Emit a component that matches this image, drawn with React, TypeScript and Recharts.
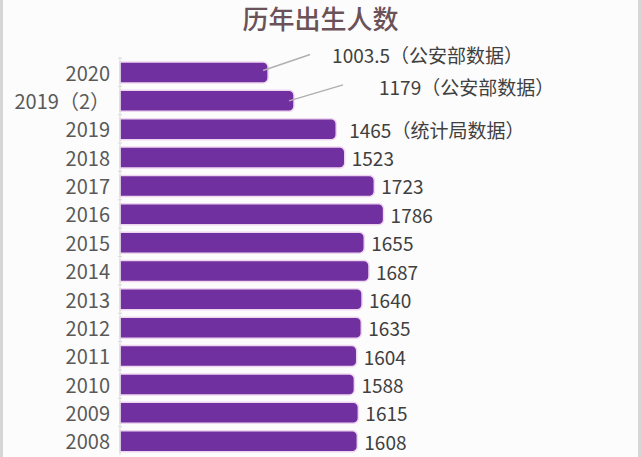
import { BarChart, Bar, XAxis, YAxis, LabelList } from 'recharts';

const years = ['2020', '2019（2）', '2019', '2018', '2017', '2016', '2015', '2014', '2013', '2012', '2011', '2010', '2009', '2008'];
const births = [1003.5, 1179, 1465, 1523, 1723, 1786, 1655, 1687, 1640, 1635, 1604, 1588, 1615, 1608];
const notes = ['（公安部数据）', '（公安部数据）', '（统计局数据）', '', '', '', '', '', '', '', '', '', '', ''];

const data = years.map((year, i) => ({ year, births: births[i], note: notes[i] }));

const W = 641;
const H = 457;
const MARGIN = { top: 58, right: 0, bottom: 2, left: 0 };
const band = (H - MARGIN.top - MARGIN.bottom) / years.length;

const FONT = '"Noto Sans CJK SC", "Noto Sans", sans-serif';

// callout placement for the first rows (leader line + shifted text)
const callouts: Record<number, { x1: number; y1: number; x2: number; y2: number; tx: number; ty: number }> = {
  0: { x1: -5, y1: -2, x2: 42, y2: -18, tx: 64, ty: -18 },
  1: { x1: -5, y1: 0, x2: 49, y2: -16, tx: 85, ty: -14 },
};

const YearTick = (props: any) => {
  const { x, y, payload } = props;
  return (
    <g>
      <line x1={x} x2={x + 4} y1={y - band / 2} y2={y - band / 2} stroke="#d9d9d9" />
      <text x={x - 8} y={y} textAnchor="end" dominantBaseline="central" fontSize={20} fill="#595959" fontFamily={FONT}>
        {payload.value}
      </text>
    </g>
  );
};

const ValueLabel = (props: any) => {
  const { x, y, width, height, value, index } = props;
  const end = x + width;
  const cy = y + height / 2;
  const text = `${value}${notes[index]}`;
  const c = callouts[index];
  if (c) {
    return (
      <g>
        <line x1={end + c.x1} y1={cy + c.y1} x2={end + c.x2} y2={cy + c.y2} stroke="#b0b0b0" strokeWidth={1.5} />
        <text x={end + c.tx} y={cy + c.ty} dominantBaseline="central" fontSize={19} fill="#404040" fontFamily={FONT}>
          {text}
        </text>
      </g>
    );
  }
  return (
    <text x={end + (notes[index] ? 13 : 7)} y={cy} dominantBaseline="central" fontSize={19} fill="#404040" fontFamily={FONT}>
      {text}
    </text>
  );
};

export default function App() {
  return (
    <div
      style={{
        position: 'absolute',
        left: 0,
        top: 0,
        width: W,
        height: H,
        background: '#fcfcfc',
        boxSizing: 'border-box',
        borderLeft: '3px solid #d6d6d6',
        borderRight: '3px solid #d6d6d6',
        overflow: 'hidden',
      }}
    >
      <div
        style={{
          position: 'absolute',
          top: 1,
          left: 0,
          width: '100%',
          textAlign: 'center',
          fontFamily: FONT,
          fontSize: 26,
          fontWeight: 500,
          color: '#6b5258',
          lineHeight: '34px',
        }}
      >
        历年出生人数
      </div>
      <div style={{ position: 'absolute', left: -3, top: 0 }}>
        <BarChart width={W} height={H} data={data} layout="vertical" margin={MARGIN} barCategoryGap={0}>
          <XAxis type="number" hide domain={[0, 3530]} />
          <YAxis
            type="category"
            dataKey="year"
            width={120}
            axisLine={{ stroke: '#d9d9d9' }}
            tickLine={false}
            tickSize={0}
            tick={<YearTick />}
            interval={0}
          />
          <Bar
            dataKey="births"
            barSize={21}
            fill="#7030a0"
            stroke="#efd6f0"
            strokeWidth={1.5}
            radius={[0, 5, 5, 0]}
            isAnimationActive={false}
          >
            <LabelList dataKey="births" content={<ValueLabel />} />
          </Bar>
        </BarChart>
      </div>
    </div>
  );
}
